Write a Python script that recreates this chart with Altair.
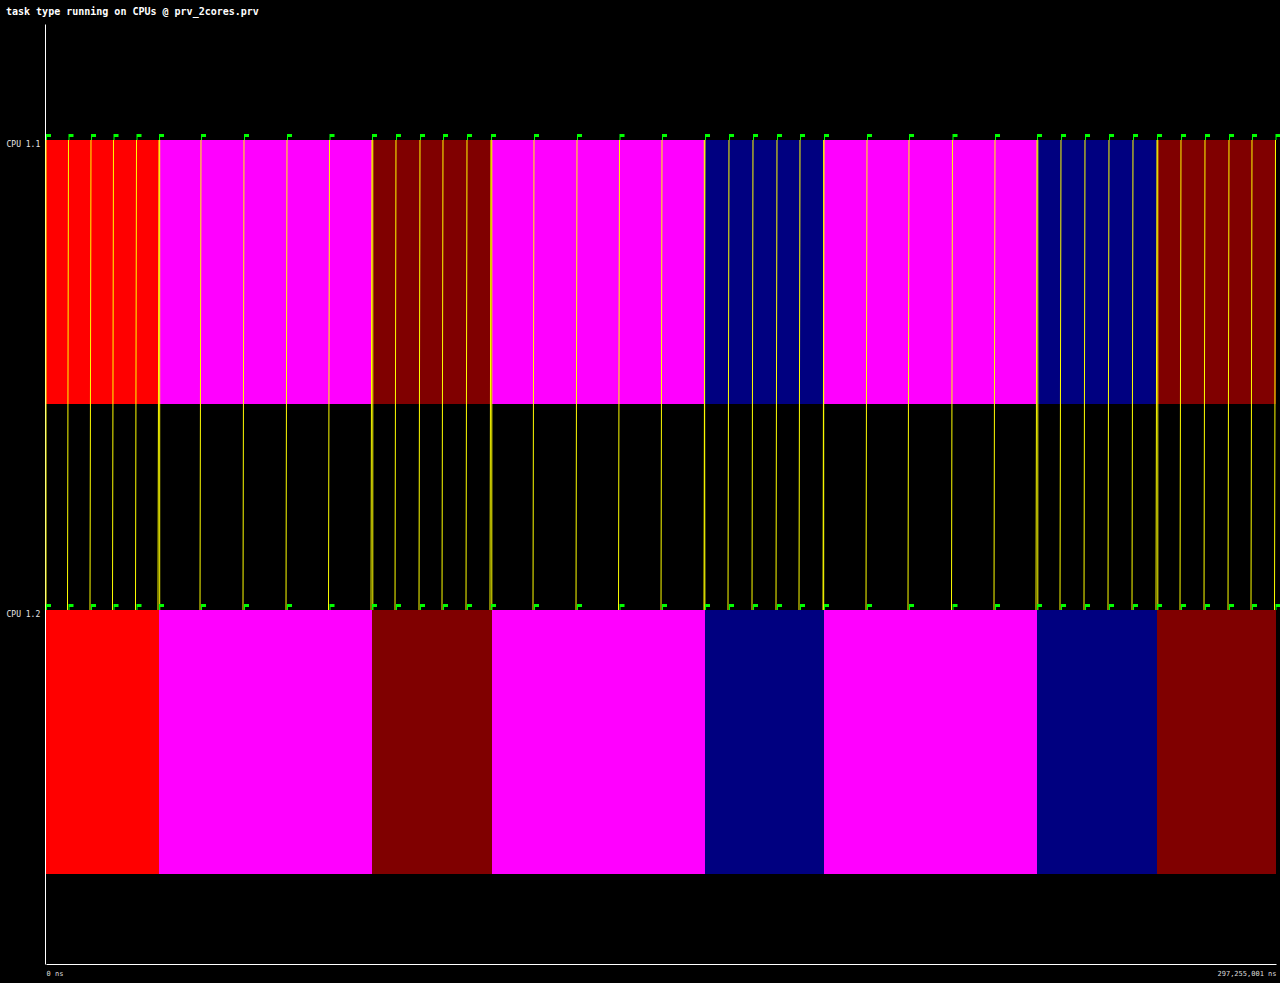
import altair as alt
import pandas as pd

# ---- data (times in ns) ----
cpus = ["CPU 1.1", "CPU 1.2"]

seg_start = [0, 27308790, 78784650, 107785130, 159261000, 188019800, 239495660, 268496150]
seg_end = [27308790, 78784650, 107785130, 159261000, 188019800, 239495660, 268496150, 297255001]
seg_type = ["type 1", "type 2", "type 3", "type 2", "type 4", "type 2", "type 4", "type 3"]

type_names = ["type 1", "type 2", "type 3", "type 4"]
type_colors = ["#ff0000", "#ff00ff", "#800000", "#000080"]

event_ns = [
    0, 5437590, 10875180, 16312770, 21871200, 27308790,
    37458960, 47850800, 58242640, 68513640, 78784650,
    84584750, 90384840, 95943270, 101743370, 107543460,
    117935300, 128327140, 138598150, 148869150, 159261000,
    165061090, 170861190, 176661280, 182219710, 188019800,
    198411650, 208561810, 219074490, 229345500, 239495660,
    245295760, 251095860, 256895950, 262696050, 268496150,
    274296240, 280096340, 285896440, 291454870, 297134170,
]

# communications: sent from CPU 1.2 (bottom end), received on CPU 1.1 (top end)
comm_recv_ns = [
    0, 5437590, 10875180, 16312770, 21871200, 27308790,
    37458960, 47850800, 58242640, 68513640, 78784650,
    84584750, 90384840, 95943270, 101743370, 107543460,
    117935300, 128327140, 138598150, 148869150, 159261000,
    165061090, 170861190, 176661280, 182219710, 188019800,
    198411650, 208561810, 219074490, 229345500, 239495660,
    245295760, 251095860, 256895950, 262696050, 268496150,
    274296240, 280096340, 285896440, 291454870, 297134170,
    27478000, 78978000, 107737000, 159092000, 187946000, 239689000, 268690000,
]
comm_send_ns = [
    0, 5195900, 10633500, 16071100, 21629500, 27067100,
    37217300, 47609100, 58001000, 68272000, 78543000,
    84343100, 90143200, 95701600, 101501700, 107301800,
    117693600, 128085500, 138356500, 148627500, 159019300,
    164819400, 170619500, 176419600, 181978000, 187778100,
    198170000, 208320100, 218832800, 229103800, 239254000,
    245054100, 250854200, 256654300, 262454400, 268254500,
    274054600, 279854700, 285654800, 291213200, 296892500,
    27478000, 78978000, 107737000, 159237000, 187946000, 239689000, 268690000,
]

t_end = 297255001

# ---- tables ----
bars = pd.DataFrame(
    [{"cpu": c, "start": s, "end": e, "type": t}
     for c in cpus for s, e, t in zip(seg_start, seg_end, seg_type)]
)
comms = pd.DataFrame({
    "recv": comm_recv_ns, "send": comm_send_ns,
    "to": ["CPU 1.1"] * len(comm_recv_ns), "from": ["CPU 1.2"] * len(comm_send_ns),
})
flags = pd.DataFrame([{"cpu": c, "t": t} for c in cpus for t in event_ns])

MONO = "DejaVu Sans Mono"

xscale = alt.Scale(domain=[0, t_end], nice=False, zero=False)
yscale = alt.Scale(domain=cpus, paddingInner=0.4383, paddingOuter=0.21915, align=0.5631)

xaxis = alt.Axis(
    values=[0, t_end], labelExpr="format(datum.value, ',') + ' ns'",
    labelFlush=True, ticks=False, grid=False, title=None,
    domainColor="white", domainWidth=1, domain=True,
    labelFont=MONO, labelFontSize=7, labelColor="#dddddd", labelPadding=5,
)
yaxis = alt.Axis(
    title=None, ticks=False, grid=False, domainColor="white", domainWidth=1, domain=True,
    offset=1, labelAlign="left", labelPadding=39, labelOffset=-127,
    labelBaseline="middle", labelFont=MONO, labelFontSize=8, labelColor="#e6e6e6",
)

bar_layer = alt.Chart(bars).mark_bar(strokeWidth=0).encode(
    x=alt.X("start:Q", scale=xscale, axis=xaxis, title=None),
    x2="end:Q",
    y=alt.Y("cpu:N", scale=yscale, axis=yaxis, sort=cpus, title=None),
    color=alt.Color("type:N", scale=alt.Scale(domain=type_names, range=type_colors), legend=None),
)

rule_layer = alt.Chart(comms).mark_rule(color="#ffff00", strokeWidth=1).encode(
    x=alt.X("recv:Q", scale=xscale, axis=xaxis, title=None),
    x2="send:Q",
    y=alt.Y("to:N", scale=yscale, axis=yaxis, bandPosition=0, sort=cpus, title=None),
    y2=alt.Y2("from:N", bandPosition=0),
)

flag_shape = "M0,-1 L1.67,-1 L1.67,0 L0.34,0 L0.34,1 L0,1 Z"
flag_layer = alt.Chart(flags).mark_point(
    shape=flag_shape, filled=True, size=36, color="#00ff00",
    opacity=1, strokeWidth=0, yOffset=-3,
).encode(
    x=alt.X("t:Q", scale=xscale, axis=xaxis, title=None),
    y=alt.Y("cpu:N", scale=yscale, axis=yaxis, bandPosition=0, sort=cpus, title=None),
)

chart = alt.layer(bar_layer, rule_layer, flag_layer).properties(
    width=1230, height=940,
    padding={"left": 46, "top": 24, "right": 4, "bottom": 19},
    autosize=alt.AutoSizeParams(type="none"),
    background="black",
    title=alt.TitleParams(
        "task type running on CPUs @ prv_2cores.prv",
        anchor="start", frame="group", dx=-40, dy=10, offset=9.5,
        baseline="alphabetic",
        font=MONO, fontSize=10, fontWeight="bold", color="white",
    ),
).configure_view(strokeWidth=0)

chart.save("out.html", embed_options={"renderer": "svg", "actions": False})
